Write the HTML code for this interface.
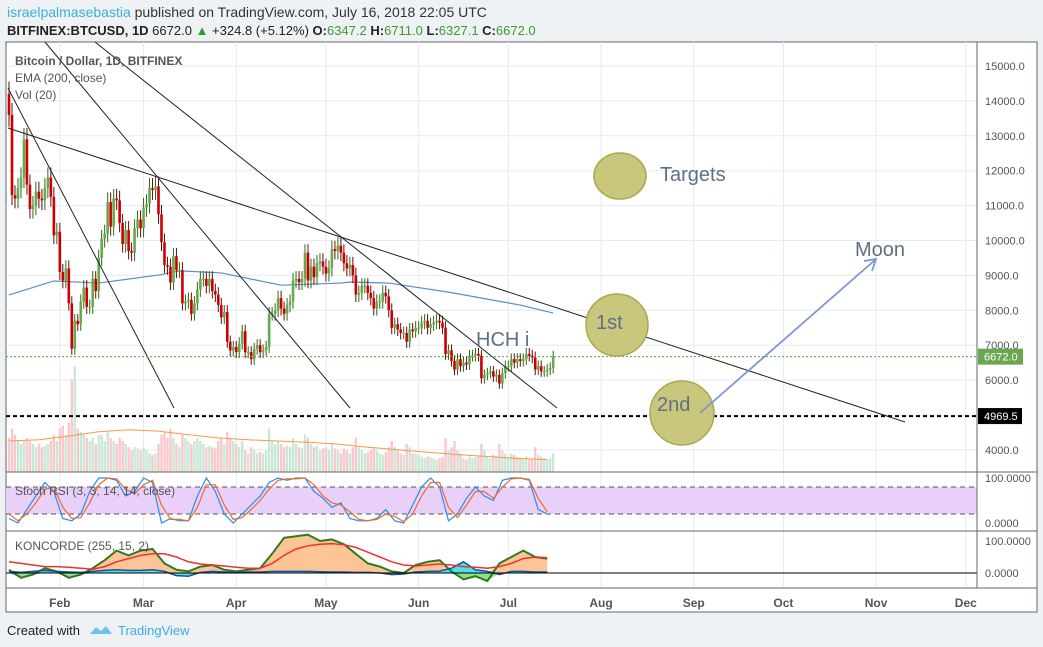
<!DOCTYPE html>
<html><head><meta charset="utf-8">
<style>
body{margin:0;background:#eef2f5;font-family:"Liberation Sans",sans-serif;}
svg{display:block}
</style></head>
<body>
<svg id="c" width="1043" height="647" xmlns="http://www.w3.org/2000/svg">
<rect width="1043" height="647" fill="#eef2f5"/>
<text x="7" y="17" font-size="14" fill="#333"><tspan fill="#3aaee0">israelpalmasebastia</tspan> published on TradingView.com, July 16, 2018 22:05 UTC</text>
<text x="7" y="35" font-size="13" fill="#222"><tspan font-weight="bold">BITFINEX:BTCUSD, 1D</tspan>  6672.0 <tspan fill="#2a9d2a">▲</tspan> +324.8 (+5.12%) <tspan font-weight="bold">O:</tspan><tspan fill="#3b9b2f">6347.2</tspan> <tspan font-weight="bold">H:</tspan><tspan fill="#3b9b2f">6711.0</tspan> <tspan font-weight="bold">L:</tspan><tspan fill="#3b9b2f">6327.1</tspan> <tspan font-weight="bold">C:</tspan><tspan fill="#3b9b2f">6672.0</tspan></text>
<rect x="6" y="42" width="1031" height="570" fill="#fff" stroke="#666"/>
<g id="grid"></g>
<g id="vol"></g>
<g id="main"></g>
<g id="ind"></g>
<g id="ann"></g>
<g id="axes"></g>
<text x="7" y="635" font-size="13" fill="#222">Created with</text>
<path d="M90 634 l6 -7 l5 4 l5 -5 l6 8 z" fill="#6cc4ec"/>
<text x="118" y="635" font-size="13" fill="#3aaee0">TradingView</text>
</svg>
<script>
const closes=[13600,11300,11200,11500,11800,12900,11600,10900,11000,11400,11200,11150,11500,11800,11250,10150,10250,
9100,8850,9200,8200,6900,7700,7600,8250,8650,8100,8100,8900,8550,9500,10050,10200,11100,10400,11200,11150,10500,9900,10300,9700,9650,10350,10600,10350,
10950,11050,11500,11450,11550,10750,9950,9300,9250,8800,9550,9150,9150,8200,8250,8300,7900,8200,8600,8900,8900,8700,8900,8550,8450,8150,7800,7950,7100,6850,6950,
6800,7050,7400,6800,6800,6600,6900,7000,6800,6850,6950,7900,7900,8000,8350,8050,7900,8150,8250,8850,8900,8800,8900,9650,8850,9250,8950,9350,9400,9250,
9050,9200,9750,9700,9850,9650,9350,9200,9300,9000,8450,8500,8700,8700,8500,8350,8050,8250,8250,8500,8400,8000,7500,7600,7450,7350,7350,7100,7450,7400,7500,
7500,7650,7700,7500,7600,7650,7700,7650,7500,6750,6850,6550,6300,6600,6400,6500,6450,6700,6700,6750,6700,6050,6150,6200,6250,6100,6150,5900,6200,6400,
6400,6600,6500,6600,6550,6600,6750,6700,6650,6300,6400,6250,6250,6300,6350,6672];
const firstOpen=14200;
const volumes=[55,70,60,50,45,50,55,50,45,40,45,40,42,45,50,60,50,
70,75,60,80,150,170,70,65,60,55,50,55,45,60,60,50,65,55,50,45,55,50,45,40,35,40,38,35,
40,35,30,28,30,45,60,65,55,70,55,45,40,60,55,50,45,50,55,50,45,40,42,40,38,50,55,45,65,55,50,
45,40,50,35,30,40,35,30,32,30,35,70,50,45,50,45,40,42,40,55,45,40,38,60,55,45,40,42,35,38,
40,35,45,38,35,30,38,35,30,40,55,40,35,30,32,35,40,35,30,28,32,40,50,40,35,30,28,45,40,30,30,
28,25,22,25,24,22,20,22,24,55,35,40,50,35,30,22,20,25,22,24,25,45,35,25,22,28,26,45,35,30,
22,30,28,24,22,20,25,20,22,40,28,25,22,20,22,30];
const volMA=[50,52,58,65,68,66,60,55,52,50,48,45,40,36,32,28,25,22,20];
const emaDays=[0,15,30,50,57,71,91,111,114,127,147,171,182];
const emaVals=[8440,8840,8780,9010,9130,9070,8720,8780,8810,8780,8520,8150,7920];
const stochK=[10,0,30,60,90,70,10,5,20,70,100,100,95,60,70,100,90,0,10,5,5,60,100,70,20,0,20,40,60,90,100,95,100,100,70,55,35,45,10,5,5,10,30,5,0,40,80,100,80,5,20,55,80,60,50,95,100,100,95,30,20];
const stochD=[20,5,20,45,75,80,35,10,12,45,85,100,98,75,65,85,95,40,8,8,5,35,85,85,40,8,12,30,50,75,95,98,98,100,85,60,45,40,25,8,5,8,20,15,3,20,60,90,90,35,12,40,70,70,55,80,98,100,97,55,25];
const koncGreen=[10,-15,-5,15,5,-15,-5,15,40,70,55,70,75,30,10,5,20,25,10,5,10,15,60,110,115,120,100,105,90,60,30,20,5,0,25,35,40,5,-20,-10,-25,30,50,70,50,45];
const koncBlue=[5,2,5,8,5,3,2,5,8,10,8,8,10,5,-8,-10,2,5,3,2,3,3,5,5,5,5,4,3,3,2,2,0,-5,-3,3,5,6,15,35,10,5,-5,5,5,3,3];
const koncRed=[35,30,25,20,20,18,15,12,20,35,45,55,60,60,50,35,28,25,22,18,15,15,30,55,75,85,90,92,88,80,65,50,35,25,22,25,28,25,20,18,15,20,30,45,50,48];
const priceTicks=[4000,5000,6000,7000,8000,9000,10000,11000,12000,13000,14000,15000];
const months=["Feb","Mar","Apr","May","Jun","Jul","Aug","Sep","Oct","Nov","Dec"];
const monthDays=[17,45,76,106,137,167,198,229,259,290,320];

const NS="http://www.w3.org/2000/svg";
const X=i=>9+i*2.99;
const Y=p=>66+(15000-p)*0.0349;
const VY=v=>472-v*0.62;
const SY=v=>523-v*0.45;
const KY=v=>573-v*0.32;
function mk(t,a,parent){const e=document.createElementNS(NS,t);for(const k in a)e.setAttribute(k,a[k]);document.getElementById(parent).appendChild(e);return e;}
function pts(arr,fx,fy){return arr.map((v,i)=>fx(i).toFixed(1)+","+fy(v).toFixed(1)).join(" ");}

// grid
monthDays.forEach(d=>{const l=mk('line',{x1:X(d),x2:X(d),y1:42,y2:588,stroke:'#e4ebf2'},'grid');

});
priceTicks.forEach(p=>{const l=mk('line',{x1:6,x2:977,y1:Y(p),y2:Y(p),stroke:'#e4ebf2'},'grid');

});

// volume
closes.forEach((c,i)=>{const o=i?closes[i-1]:firstOpen;const up=c>=o;
const r=mk('rect',{x:X(i)-1.2,y:VY(volumes[i]),width:2.4,height:volumes[i]*0.62,fill:up?'#c9e8d6':'#f8c8cd'},'vol');

});
let vm=mk('polyline',{points:pts(volMA,i=>X(i*10),VY),fill:'none',stroke:'#f59a4a','stroke-width':1},'vol');



// EMA
let em=mk('polyline',{points:emaVals.map((v,i)=>X(emaDays[i])+","+Y(v)).join(" "),fill:'none',stroke:'#5b8fc2','stroke-width':1.2},'main');



// candles
closes.forEach((c,i)=>{const o=i?closes[i-1]:firstOpen;const up=c>=o;
const hi=Math.max(o,c)*1.025,lo=Math.min(o,c)*0.975;
const w=mk('line',{x1:X(i),x2:X(i),y1:Y(hi),y2:Y(lo),stroke:up?'#2e6b12':'#6b0a0a'},'main');


const b=mk('rect',{x:X(i)-1.3,y:Y(Math.max(o,c)),width:2.6,height:Math.max(1,Math.abs(Y(o)-Y(c))),fill:up?'#6aa84f':'#cc0000'},'main');

});

// stoch
let band=mk('rect',{x:6,y:SY(80),width:971,height:SY(20)-SY(80),fill:'#e8d0f8'},'ind');


[80,20].forEach(v=>{const l=mk('line',{x1:6,x2:977,y1:SY(v),y2:SY(v),stroke:'#555','stroke-dasharray':'5,4'},'ind');

});
let sk=mk('polyline',{points:pts(stochK,i=>X(i*3),SY),fill:'none',stroke:'#2a8cf0','stroke-width':1.2},'ind');


let sd=mk('polyline',{points:pts(stochD,i=>X(i*3),SY),fill:'none',stroke:'#f06a2a','stroke-width':1.2},'ind');



// koncorde
const kx=i=>X(i*4);
const x0=kx(0),x1=kx(koncGreen.length-1);
let fo=mk('polygon',{points:x0+","+KY(0)+" "+pts(koncGreen.map(v=>Math.max(v,0)),kx,KY)+" "+x1+","+KY(0),fill:'#fdc596'},'ind');


let fg=mk('polygon',{points:x0+","+KY(0)+" "+pts(koncGreen.map(v=>Math.min(v,0)),kx,KY)+" "+x1+","+KY(0),fill:'#8fe08a'},'ind');


let fb=mk('polygon',{points:x0+","+KY(0)+" "+pts(koncBlue,kx,KY)+" "+x1+","+KY(0),fill:'#4fe0ec'},'ind');


let kg=mk('polyline',{points:pts(koncGreen,kx,KY),fill:'none',stroke:'#2f7a1c','stroke-width':2},'ind');


let kb=mk('polyline',{points:pts(koncBlue,kx,KY),fill:'none',stroke:'#1d4f9a','stroke-width':1.5},'ind');


let kr=mk('polyline',{points:pts(koncRed,kx,KY),fill:'none',stroke:'#f03030','stroke-width':1.5},'ind');


let kz=mk('line',{x1:6,x2:977,y1:KY(0),y2:KY(0),stroke:'#000'},'ind');



// annotations
const trend=[[8,88,174,408],[45,42,350,408],[95,42,557,408],[8,128,905,422]];
trend.forEach(t=>{const l=mk('line',{x1:t[0],y1:t[1],x2:t[2],y2:t[3],stroke:'#222','stroke-width':1},'ann');

});
let gl=mk('line',{x1:6,x2:977,y1:Y(6672),y2:Y(6672),stroke:'#5fa83a','stroke-dasharray':'2,2'},'ann');


let sl=mk('line',{x1:6,x2:977,y1:Y(4969.5),y2:Y(4969.5),stroke:'#000','stroke-width':2,'stroke-dasharray':'4,3'},'ann');


const circ=[[620,176,26,23,'target-circle'],[617,325,31,31,'first-target-circle'],[682,413,32,32,'second-target-circle']];
circ.forEach(c=>{const e=mk('ellipse',{cx:c[0],cy:c[1],rx:c[2],ry:c[3],fill:'#c9c77e',stroke:'#aaa84a','stroke-width':1.5},'ann');

});
let ar=mk('line',{x1:700,y1:413,x2:875,y2:260,stroke:'#7f95d3','stroke-width':1.8},'ann');


let ah=mk('polyline',{points:'864,261 876,259 872,271',fill:'none',stroke:'#7f95d3','stroke-width':1.8},'ann');


const labels=[[660,181,'Targets','targets-label'],[596,329,'1st','first-label'],[657,411,'2nd','second-label'],[855,256,'Moon','moon-label'],[476,346,'HCH i','hch-label']];
labels.forEach(l=>{const t=mk('text',{x:l[0],y:l[1],'font-size':20,fill:'#5e7182'},'ann');t.textContent=l[2];

});
const leg=[['Bitcoin / Dollar, 1D, BITFINEX',65,'bold','legend-symbol'],['EMA (200, close)',82,'normal','legend-ema'],['Vol (20)',99,'normal','legend-volume'],];
leg.forEach(l=>{const t=mk('text',{x:15,y:l[1],'font-size':12,fill:'#555','font-weight':l[2]},'ann');t.textContent=l[0];

});
let t1=mk('text',{x:15,y:495,'font-size':12,fill:'#555'},'ann');t1.textContent='Stoch RSI (3, 3, 14, 14, close)';


let t2=mk('text',{x:15,y:550,'font-size':12,fill:'#555'},'ann');t2.textContent='KONCORDE (255, 15, 2)';



// axes
[[472],[531],[588]].forEach(s=>{const l=mk('line',{x1:6,x2:1037,y1:s[0],y2:s[0],stroke:'#666'},'axes');

});
let va=mk('line',{x1:977,x2:977,y1:42,y2:588,stroke:'#666'},'axes');


priceTicks.forEach(p=>{const t=mk('text',{x:985,y:Y(p)+4,'font-size':11,fill:'#555'},'axes');t.textContent=p.toFixed(1);

});
[[SY(100),'100.0000'],[SY(0),'0.0000'],[KY(100),'100.0000'],[KY(0),'0.0000']].forEach(a=>{const t=mk('text',{x:985,y:a[0]+4,'font-size':11,fill:'#555'},'axes');t.textContent=a[1];

});
let gb=mk('rect',{x:978,y:Y(6672)-8,width:45,height:16,fill:'#6aa84f'},'axes');


let gt=mk('text',{x:984,y:Y(6672)+4,'font-size':11,fill:'#fff'},'axes');gt.textContent='6672.0';


let bb=mk('rect',{x:978,y:Y(4969.5)-8,width:44,height:16,fill:'#000'},'axes');


let bt=mk('text',{x:984,y:Y(4969.5)+4,'font-size':11,fill:'#fff'},'axes');bt.textContent='4969.5';


months.forEach((m,i)=>{const t=mk('text',{x:X(monthDays[i]),y:607,'font-size':12,fill:'#555','text-anchor':'middle','font-weight':'bold'},'axes');t.textContent=m;

});
</script>
</body></html>
